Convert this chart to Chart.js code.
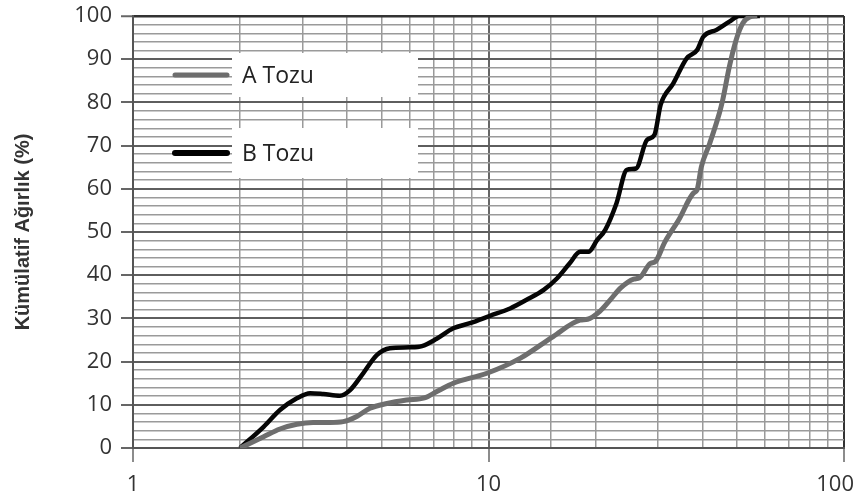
<!DOCTYPE html>
<html>
<head>
<meta charset="utf-8">
<script src="https://cdn.jsdelivr.net/npm/chart.js@4/dist/chart.umd.min.js"></script>
<style>
  html, body { margin: 0; padding: 0; background: #ffffff; }
  #wrap { width: 856px; height: 498px; position: relative; }
</style>
</head>
<body>
<div id="wrap"><canvas id="c" width="856" height="498"></canvas></div>
<script>
// ---- data ----
const seriesNames = ['A Tozu', 'B Tozu'];
const xTickLabels = [1, 10, 100];
const yTickLabels = [0, 10, 20, 30, 40, 50, 60, 70, 80, 90, 100];
const yAxisTitle = 'Kümülatif Ağırlık (%)';

const aX = [2, 2.33, 2.59, 2.89, 3.21, 3.58, 3.9, 4.26, 4.64, 5.18, 5.88, 6.6, 7.2, 7.96, 9.9, 12.3, 15.2, 18.1, 19.0, 20.6, 22.0, 23.5, 25.6, 26.6, 28.5, 29.5, 31.3, 34.4, 37.7, 38.6, 39.7, 41.9, 44.6, 45.6, 47.6, 49.7, 51.9, 54.4, 57];
const aY = [0, 2.6, 4.4, 5.5, 5.9, 5.9, 6.1, 7.3, 9.2, 10.3, 11.1, 11.6, 13.2, 15.0, 17.3, 20.8, 25.8, 29.6, 29.8, 31.7, 34.3, 37.0, 39.1, 39.4, 42.7, 43.2, 47.6, 53.0, 59.0, 59.7, 65.1, 70.5, 77.5, 80.6, 88.3, 94.4, 98.3, 99.8, 100];

const bX = [2, 2.33, 2.59, 2.89, 3.15, 3.43, 3.82, 4.08, 4.44, 4.85, 5.28, 6.0, 6.5, 7.15, 7.96, 8.87, 10.1, 11.5, 12.8, 14.3, 15.6, 16.9, 18.1, 19.1, 20.2, 21.3, 22.9, 24.5, 26.0, 27.9, 29.3, 30.5, 33.1, 36.1, 38.6, 40.2, 43.8, 47.6, 50.7, 58];
const bY = [0, 4.9, 8.8, 11.5, 12.7, 12.5, 12.1, 13.4, 17.3, 21.5, 23.1, 23.3, 23.6, 25.3, 27.7, 28.9, 30.6, 32.3, 34.3, 36.6, 39.3, 42.7, 45.4, 45.4, 48.1, 50.5, 56.6, 64.4, 64.7, 71.3, 72.5, 79.5, 84.4, 90.2, 92.1, 95.2, 96.8, 98.7, 100, 100];

const toPoints = (xs, ys) => xs.map((x, i) => ({ x: x, y: ys[i] }));

const isDecade = v => Math.abs(Math.log10(v) - Math.round(Math.log10(v))) < 1e-9;

// legend boxes + sample lines, drawn above grid, below data
const legendPlugin = {
  id: 'boxLegend',
  beforeDatasetsDraw(chart) {
    const ctx = chart.ctx;
    const ca = chart.chartArea;
    const items = [
      { name: seriesNames[0], color: '#6e6e6e', width: 5, top: ca.top + 37, h: 44 },
      { name: seriesNames[1], color: '#000000', width: 6, top: ca.top + 112, h: 50 }
    ];
    ctx.save();
    items.forEach(it => {
      const bx = ca.left + 99, bw = 186;
      ctx.fillStyle = '#ffffff';
      ctx.fillRect(bx, it.top, bw, it.h);
      const cy = it.top + it.h / 2;
      ctx.strokeStyle = it.color;
      ctx.lineWidth = it.width;
      ctx.lineCap = 'round';
      ctx.beginPath();
      ctx.moveTo(ca.left + 42, cy);
      ctx.lineTo(ca.left + 94, cy);
      ctx.stroke();
      ctx.fillStyle = '#222222';
      ctx.font = '23px "Open Sans"';
      ctx.textBaseline = 'middle';
      ctx.textAlign = 'left';
      ctx.fillText(it.name, bx + 10, cy + 1);
    });
    ctx.restore();
  },
  afterDraw(chart) {
    // x tick labels positioned through the x scale
    const ctx = chart.ctx;
    const xs = chart.scales.x;
    ctx.save();
    ctx.font = '22px "Open Sans"';
    ctx.fillStyle = '#333333';
    ctx.textBaseline = 'middle';
    ctx.textAlign = 'center';
    xTickLabels.forEach(v => {
      const t = String(v);
      const w = ctx.measureText(t).width;
      let px = xs.getPixelForValue(v);
      px = Math.min(px, chart.width - 2 - w / 2);
      ctx.fillText(t, px, xs.top + 37);
    });
    ctx.restore();
  }
};

new Chart(document.getElementById('c'), {
  type: 'line',
  data: {
    datasets: [
      {
        label: seriesNames[0],
        data: toPoints(aX, aY),
        borderColor: '#6e6e6e',
        borderWidth: 5,
        pointRadius: 0,
        cubicInterpolationMode: 'monotone',
        fill: false
      },
      {
        label: seriesNames[1],
        data: toPoints(bX, bY),
        borderColor: '#050505',
        borderWidth: 4.5,
        pointRadius: 0,
        cubicInterpolationMode: 'monotone',
        fill: false
      }
    ]
  },
  options: {
    responsive: false,
    animation: false,
    devicePixelRatio: 1,
    layout: { padding: { left: 0, right: 12, top: 16, bottom: 36 } },
    plugins: {
      legend: { display: false },
      tooltip: { enabled: false }
    },
    scales: {
      x: {
        type: 'logarithmic',
        min: 1,
        max: 100,
        afterFit: s => { s.paddingLeft = 0; s.paddingRight = 0; },
        border: { display: true, color: '#555555', width: 2 },
        grid: {
          drawOnChartArea: true,
          color: c => (c.tick && isDecade(c.tick.value)) ? (c.tick.value === 100 ? '#333333' : '#666666') : '#9a9a9a',
          lineWidth: c => (c.tick && isDecade(c.tick.value)) ? 2 : 1.5,
          tickLength: 14,
          tickColor: c => (c.tick && isDecade(c.tick.value)) ? '#666666' : 'rgba(0,0,0,0)',
          tickWidth: 1.5
        },
        ticks: { display: false, autoSkip: false }
      },
      y: {
        type: 'linear',
        min: 0,
        max: 100,
        afterFit: s => { s.width = 133; s.paddingTop = 0; s.paddingBottom = 0; },
        border: { display: true, color: '#555555', width: 2 },
        title: {
          display: true,
          text: yAxisTitle,
          color: '#333333',
          font: { family: '"Liberation Sans", Arial, sans-serif', size: 20, weight: 'bold' },
          padding: { top: 11, bottom: 0 }
        },
        grid: {
          color: c => {
            if (!c.tick) return '#9a9a9a';
            if (c.tick.value === 100) return '#333333';
            return c.tick.value % 10 === 0 ? '#5e5e5e' : '#9a9a9a';
          },
          lineWidth: c => (c.tick && c.tick.value === 100) ? 2.5 : ((c.tick && c.tick.value % 10 === 0) ? 2 : 1.5),
          tickLength: 12,
          tickColor: c => (c.tick && c.tick.value % 10 === 0) ? '#666666' : 'rgba(0,0,0,0)',
          tickWidth: 2
        },
        ticks: {
          stepSize: 2,
          autoSkip: false,
          padding: 9,
          color: '#333333',
          font: { family: '"Open Sans"', size: 22 },
          callback: v => (yTickLabels.indexOf(v) >= 0 ? String(v) : '')
        }
      }
    }
  },
  plugins: [legendPlugin]
});
</script>
</body>
</html>
